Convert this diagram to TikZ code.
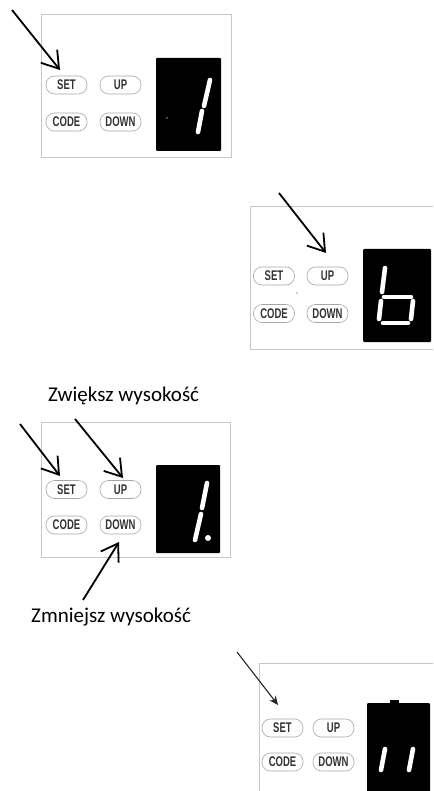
\documentclass[tikz,border=0pt]{standalone}
\usepackage{fontspec}
\setmainfont{Carlito}
\newfontfamily\keyfont[FakeStretch=0.68]{Liberation Sans}
\usetikzlibrary{arrows.meta}

\begin{document}
\begin{tikzpicture}[x=1pt,y=-1pt]
\tikzset{
  panel/.style={draw=black!22,line width=0.8pt},
  display/.style={fill=black,rounded corners=1pt},
  keybtn/.style={draw=black!35,line width=0.6pt,rounded corners=8.5pt,minimum width=41pt,minimum height=18pt,inner sep=0pt,font=\keyfont\bfseries\fontsize{14}{14}\selectfont,text=black!80},
  segment/.style={draw=white,line width=4.6pt,line cap=round},
  pointer/.style={draw=black,line width=1.8pt,-{Straight Barb[length=16pt,width=21pt]}},
  thinpointer/.style={draw=black!85,line width=1.1pt,-{Stealth[length=9pt,width=8pt]}},
  caption/.style={font=\fontsize{21}{24}\selectfont,inner sep=0pt,anchor=base west}
}
\useasboundingbox (0,0) rectangle (433,791);
\clip (0,0) rectangle (433,791);

% panel 1: SET pressed, display shows 1
\draw[panel] (41,14) rectangle (231,157);
\fill[display] (156,58) rectangle (221,151);
\node[keybtn] (set1) at (66.5,85) {SET};
\node[keybtn] (up1) at (120.5,85) {UP};
\node[keybtn] (code1) at (66.5,122) {CODE};
\node[keybtn] (down1) at (120.5,122) {DOWN};
\draw[segment] (210,80) -- (204,106);
\draw[segment] (202,111) -- (198,132);
\fill[black!45] (167,118) circle (0.9);
\coordinate (t1) at (12,10);
\coordinate (h1) at (60,70);
\draw[pointer] (t1) -- (h1);

% panel 2: UP pressed, display shows b
\draw[panel] (250,206) rectangle (440,349);
\fill[display] (363,249) rectangle (431,342);
\node[keybtn] (set2) at (274,276) {SET};
\node[keybtn] (up2) at (327.5,276) {UP};
\node[keybtn] (code2) at (274,313.5) {CODE};
\node[keybtn] (down2) at (327.5,313.5) {DOWN};
\draw[segment] (385,268) -- (382,292);
\draw[segment] (381,301) -- (379,319);
\draw[segment] (384,297) -- (411,297);
\draw[segment] (413,301) -- (411,319);
\draw[segment] (383,323) -- (408,323);
\fill[black!40] (297,293) circle (0.9);
\coordinate (t2) at (279,193);
\coordinate (h2) at (326,253);
\draw[pointer] (t2) -- (h2);

% panel 3: height adjustment with UP / DOWN
\node[caption] (inc) at (48,401) {Zwiększ wysokość};
\draw[panel] (41,422) rectangle (230,557);
\fill[display] (156,465) rectangle (220,553);
\node[keybtn] (set3) at (66.5,489.5) {SET};
\node[keybtn] (up3) at (120.5,489.5) {UP};
\node[keybtn] (code3) at (66.5,525) {CODE};
\node[keybtn] (down3) at (120.5,525) {DOWN};
\draw[segment] (207,483) -- (202,508);
\draw[segment] (201,514) -- (195,540);
\fill[white] (208,538) circle (3);
\node[caption] (dec) at (31,622) {Zmniejsz wysokość};
\coordinate (t3) at (20,424);
\coordinate (h3) at (60,476);
\coordinate (t3up) at (75,419);
\coordinate (h3up) at (123,478);
\coordinate (t3dn) at (83,600);
\coordinate (h3dn) at (119,542);
\draw[pointer] (t3) -- (h3);
\draw[pointer] (t3up) -- (h3up);
\draw[pointer] (t3dn) -- (h3dn);

% panel 4: SET again, display shows 11
\draw[panel] (259,663) rectangle (440,800);
\fill[display] (367,703) rectangle (430,800);
\fill (390,700) rectangle (399,704);
\node[keybtn] (set4) at (282.5,728) {SET};
\node[keybtn] (up4) at (333.5,728) {UP};
\node[keybtn] (code4) at (282.5,762) {CODE};
\node[keybtn] (down4) at (333.5,762) {DOWN};
\draw[segment] (385,749) -- (381,770);
\draw[segment] (413,749) -- (409,770);
\coordinate (t4) at (237,652);
\coordinate (h4) at (278,705);
\draw[thinpointer] (t4) -- (h4);
\end{tikzpicture}
\end{document}
